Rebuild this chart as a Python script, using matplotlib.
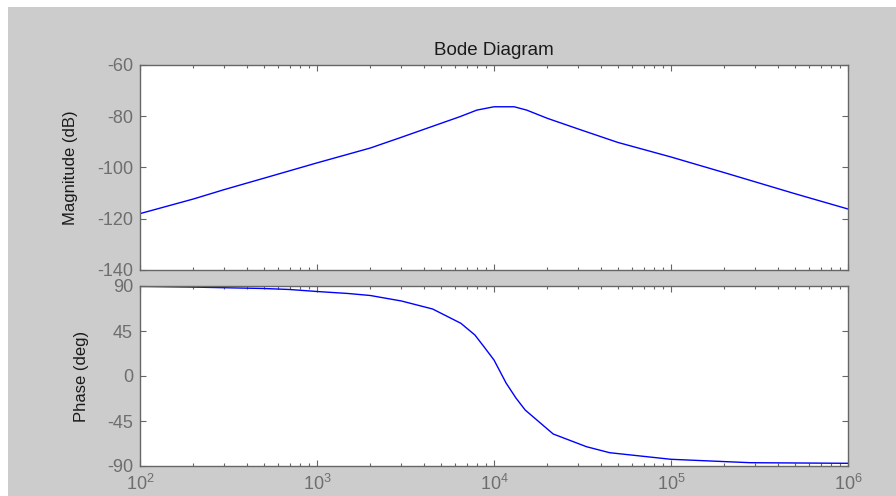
import matplotlib
matplotlib.use("Agg")
import matplotlib.pyplot as plt
from matplotlib.patches import Rectangle
from matplotlib.ticker import LogLocator, FixedLocator, NullFormatter

plt.rcParams['font.family'] = ['Liberation Sans', 'DejaVu Sans']
plt.rcParams['mathtext.fontset'] = 'custom'
plt.rcParams['mathtext.rm'] = 'Liberation Sans'
plt.rcParams['mathtext.it'] = 'Liberation Sans:italic'
plt.rcParams['mathtext.default'] = 'regular'
plt.rcParams['axes.unicode_minus'] = False

# ---- data ----
mag_freq = [100, 200, 300, 500, 1000, 2000, 3000, 5000, 6400, 8000, 10000,
            13000, 15300, 20000, 30000, 50000, 100000, 200000, 500000, 1000000]
mag_db = [-118.0, -112.3, -108.6, -104.2, -98.2, -92.4, -88.2, -82.8, -80.2,
          -77.6, -76.3, -76.3, -77.6, -80.8, -85.0, -90.2, -95.9, -102.0,
          -110.2, -116.2]

ph_freq = [100, 200, 500, 700, 1000, 1500, 2000, 3000, 4500, 6500, 7800,
           8800, 10000, 11700, 13300, 15000, 21600, 33300, 45000, 100000,
           280000, 1000000]
ph_deg = [89.6, 88.9, 87.5, 86.5, 84.5, 82.5, 80.5, 75.0, 67.0, 52.7, 41.0,
          29.0, 16.0, -7.0, -22.0, -34.0, -58.0, -70.7, -76.7, -83.3,
          -86.7, -87.3]

mag_ticks = [-140, -120, -100, -80, -60]
ph_ticks = [-90, -45, 0, 45, 90]
title = "Bode Diagram"
mag_label = "Magnitude (dB)"
ph_label = "Phase (deg)"

W, H = 896, 496
fig = plt.figure(figsize=(W / 100, H / 100), dpi=100, facecolor='white')
fig.add_artist(Rectangle((8 / W, 0), 1, (H - 7) / H, transform=fig.transFigure,
                         facecolor='#cccccc', edgecolor='none', zorder=-10))

left = 140 / W
width = (848 - 140) / W
ax1 = fig.add_axes([left, 1 - 270 / H, width, 205 / H])
ax2 = fig.add_axes([left, 1 - 466 / H, width, 180 / H])

line_color = '#0000ff'
spine_color = '#666666'
tick_label_color = '#6e6e6e'
label_color = '#1a1a1a'

ax1.plot(mag_freq, mag_db, color=line_color, lw=1.0)
ax2.plot(ph_freq, ph_deg, color=line_color, lw=1.0)

for ax in (ax1, ax2):
    ax.set_facecolor('white')
    ax.set_xscale('log')
    ax.set_xlim(1e2, 1e6)
    ax.xaxis.set_major_locator(LogLocator(base=10, numticks=10))
    ax.xaxis.set_minor_locator(LogLocator(base=10, subs=range(2, 10), numticks=20))
    ax.xaxis.set_minor_formatter(NullFormatter())
    for s in ax.spines.values():
        s.set_color(spine_color)
        s.set_linewidth(1.0)
    ax.tick_params(which='both', direction='in', top=True, right=True,
                   color=spine_color, labelcolor=tick_label_color,
                   labelsize=13, width=0.8)
    ax.tick_params(which='major', length=4.5, pad=5)
    ax.tick_params(which='minor', length=2.5)

ax1.set_ylim(-140, -60)
ax1.yaxis.set_major_locator(FixedLocator(mag_ticks))
ax1.tick_params(axis='x', labelbottom=False)
ax2.set_ylim(-90, 90)
ax2.yaxis.set_major_locator(FixedLocator(ph_ticks))
ax2.tick_params(axis='x', pad=6)

ax1.set_title(title, fontsize=13.5, color=label_color, pad=7)
ax1.set_ylabel(mag_label, fontsize=12, color=label_color)
ax2.set_ylabel(ph_label, fontsize=12, color=label_color)
ax1.yaxis.set_label_coords((78 - 140) / 708, 0.5)
ax2.yaxis.set_label_coords((89 - 140) / 708, 0.5)

fig.savefig('out.png', dpi=100, facecolor=fig.get_facecolor())
